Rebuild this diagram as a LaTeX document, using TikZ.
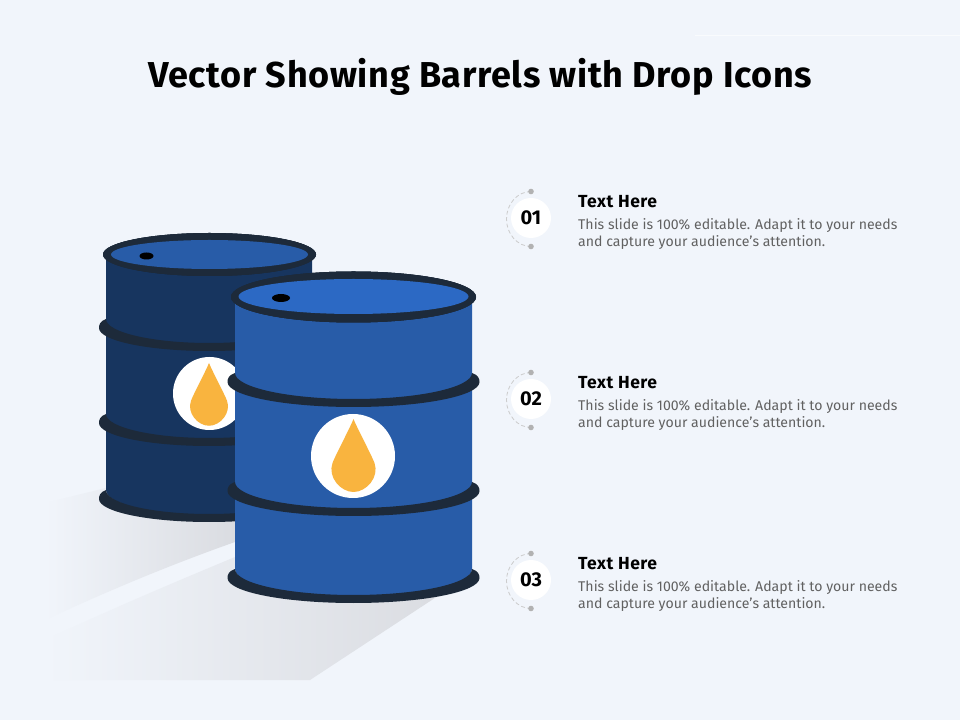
\documentclass[tikz,border=0pt]{standalone}
\usepackage{fontspec}
\setmainfont{Fira Sans}
\definecolor{pagebg}{HTML}{F1F5FB}
\definecolor{ringdark}{HTML}{1D2A3A}
\definecolor{frontblue}{HTML}{285CA8}
\definecolor{frontlid}{HTML}{2C69C4}
\definecolor{backblue}{HTML}{17355F}
\definecolor{dropgold}{HTML}{F9B43F}
\definecolor{shadowgray}{HTML}{DADCE1}
\tikzset{
  headtext/.style={anchor=west, inner sep=0pt, font=\fontsize{17.5}{20}\selectfont\bfseries\addfontfeatures{LetterSpace=3}, text=black},
  bodytext/.style={anchor=north west, inner sep=0pt, align=left, text=black!62, font=\fontsize{14.1}{17}\selectfont},
  numdisc/.style={circle, fill=white, minimum size=40pt, inner sep=0pt, font=\fontsize{20}{24}\selectfont\bfseries},
  tinydot/.style={fill=black!30},
  ringfill/.style={fill=ringdark}
}
% y is counted up from the bottom edge of the page
\newcommand{\bandring}[5]{% centre x, centre y, half width, body half width, arc height
  \fill[ringfill] (#1-#4,#2+9) .. controls (#1-#3+1,#2+7) and (#1-#3,#2+3) .. (#1-#3,#2)
    arc[start angle=180, end angle=360, x radius=#3, y radius=#5]
    .. controls (#1+#3,#2+3) and (#1+#3-1,#2+7) .. (#1+#4,#2+9)
    arc[start angle=360, end angle=180, x radius=#4, y radius=#5+1] -- cycle;
}
\newcommand{\dropicon}[3]{% tip x, tip y, scale
  \fill[dropgold, shift={(#1,#2)}, scale=#3] (0,0)
    .. controls (4,-10) and (18,-36) .. (21,-44)
    .. controls (26,-58) and (13,-73) .. (0,-73)
    .. controls (-13,-73) and (-26,-58) .. (-21,-44)
    .. controls (-18,-36) and (-4,-10) .. (0,0) -- cycle;
}
\begin{document}
\begin{tikzpicture}[x=1pt, y=1pt]
  \useasboundingbox (0,0) rectangle (960,720);
  \fill[pagebg] (0,0) rectangle (960,720);
  \draw[white, opacity=0.6, line width=1pt] (695,684.5) -- (960,684.5);

  \node[anchor=center, inner sep=0pt, font=\fontsize{36}{42}\selectfont\bfseries\addfontfeatures{LetterSpace=1.8}] (title) at (480,643) {Vector Showing Barrels with Drop Icons};

  % floor shadows
  \shade[left color=pagebg, right color=shadowgray] (45,217) -- (130,238) -- (235,238) -- (235,178)
    .. controls (170,155) and (110,130) .. (45,100) -- cycle;
  \shade[left color=pagebg, right color=shadowgray] (45,40) -- (310,40) -- (447,130) -- (235,163)
    .. controls (180,140) and (120,115) .. (45,80) -- cycle;

  % back barrel
  \fill[backblue] (106,465) -- (312,465) -- (312,230) arc[start angle=360, end angle=180, x radius=103, y radius=25] -- cycle;
  \foreach \bandy in {392,297,221}
    \bandring{209}{\bandy}{110}{103}{23}
  \fill[ringdark] (209.5,465.5) ellipse[x radius=106.5, y radius=21.5];
  \fill[frontblue] (209.5,465.5) ellipse[x radius=98.5, y radius=14.5];
  \fill[black] (146.5,464) ellipse[x radius=7, y radius=3.5];
  \fill[white] (209.5,326.5) circle[radius=36.5];
  \dropicon{209}{357}{0.86}

  % front barrel
  \fill[frontblue] (235,423) -- (472,423) -- (472,151) arc[start angle=360, end angle=180, x radius=118.5, y radius=28] -- cycle;
  \foreach \bandy in {338,229,142}
    \bandring{353.5}{\bandy}{126}{118.5}{25}
  \fill[ringdark] (353.5,423) ellipse[x radius=122.5, y radius=25.5];
  \fill[frontlid] (353.5,423.5) ellipse[x radius=115, y radius=17.5];
  \fill[black] (281,422) ellipse[x radius=9, y radius=4];
  \fill[white] (353,264) circle[radius=42];
  \dropicon{353.5}{301}{1}

  % numbered list
  \foreach \num/\cy/\headname in {01/501/heada,02/320/headb,03/139/headc}{
    \draw[black!20, line width=0.8pt, dash pattern=on 4pt off 2.5pt] (531,\cy+27.5) arc[start angle=90, end angle=270, x radius=24.5, y radius=27.5];
    \fill[tinydot] (531,\cy+27.5) circle[radius=2.8];
    \fill[tinydot] (531,\cy-27.5) circle[radius=2.8];
    \node[numdisc] (disc\num) at (531,\cy+1) {\num};
    \node[headtext] (\headname) at (578,\cy+17.5) {Text Here};
    \node[bodytext] (body\num) at (578,\cy+1) {This slide is 100\% editable. Adapt it to your needs\\and capture your audience's attention.};
  }
\end{tikzpicture}
\end{document}
